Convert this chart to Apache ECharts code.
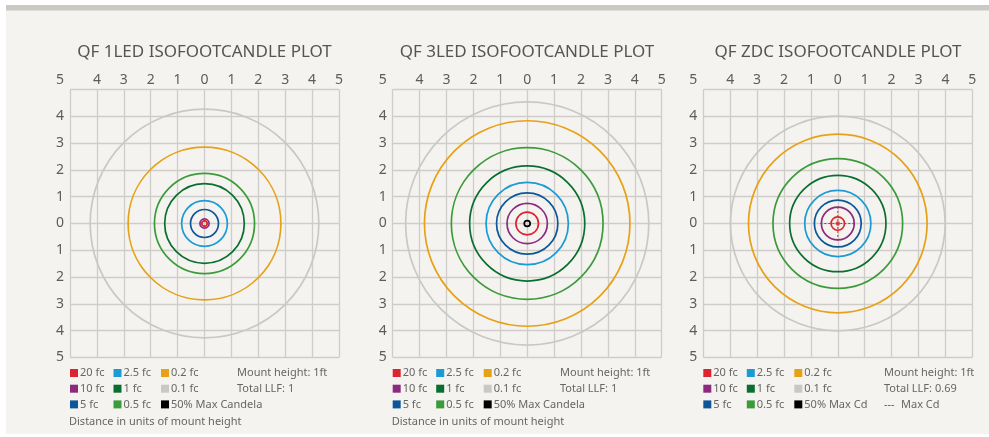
<!DOCTYPE html>
<html lang="en">
<head>
<meta charset="UTF-8">
<title>Isofootcandle plots</title>
<script src="https://cdn.jsdelivr.net/npm/echarts@6/dist/echarts.min.js"></script>
<style>
    html, body {
        margin: 0;
        padding: 0;
        width: 100%;
        height: 100%;
        background: #ffffff;
    }
    #chart {
        width: 989px;
        height: 437px;
    }
</style>
</head>
<body>
<div id="chart"></div>
<script>
    // footcandle levels, shared by the three plots
    var levels = ['20 fc', '10 fc', '5 fc', '2.5 fc', '1 fc', '0.5 fc', '0.2 fc', '0.1 fc'];
    var levelColors = ['#dc2430', '#8c2a7d', '#0d5699', '#1b9ad6', '#0a6e30', '#3b9b3a', '#e6a117', '#c8c8c8'];

    // ring radius per level, in units of mount height
    var radii1LED = [0.10, 0.17, 0.52, 0.85, 1.48, 1.86, 2.84, 4.25];
    var radii3LED = [0.42, 0.75, 1.14, 1.53, 2.14, 2.82, 3.82, 4.52];
    var radiiZDC  = [0.25, 0.61, 0.87, 1.23, 1.79, 2.41, 3.32, 3.99];

    // 50% max candela ring (only visible on the 3LED plot)
    var halfCandela3LED = 0.11;

    // ZDC max candela crosshair
    var maxCdH = [[-0.65, 0], [0.65, 0]];
    var maxCdV = [[0, -0.65], [0, 0.65]];
    var maxCdPoint = [[0, 0]];

    var titles = ['QF 1LED ISOFOOTCANDLE PLOT', 'QF 3LED ISOFOOTCANDLE PLOT', 'QF ZDC ISOFOOTCANDLE PLOT'];
    var llf = ['1', '1', '0.69'];
    var halfNames = ['50% Max Candela', '50% Max Candela', '50% Max Cd'];

    var font = '"Noto Sans", sans-serif';
    var textGray = '#5c5c5c';
    var gridLefts = [70, 392.7, 703.3];
    var centers = [204.5, 527, 838];
    var noteX = [237, 560, 884];

    var chart = echarts.init(document.getElementById('chart'));

    function ring(gi, name, color, r) {
        return {
            type: 'custom',
            name: name,
            xAxisIndex: gi,
            yAxisIndex: gi,
            silent: true,
            animation: false,
            itemStyle: { color: color },
            data: r == null ? [] : [[0, 0, r]],
            renderItem: function (params, api) {
                var c = api.coord([api.value(0), api.value(1)]);
                var s = api.size([api.value(2), api.value(2)]);
                return {
                    type: 'circle',
                    shape: { cx: c[0], cy: c[1], r: s[0] },
                    style: { fill: 'transparent', stroke: color, lineWidth: 1.7 }
                };
            }
        };
    }

    var grids = [], xAxes = [], yAxes = [], series = [], legends = [], graphics = [];
    var allRadii = [radii1LED, radii3LED, radiiZDC];

    for (var g = 0; g < 3; g++) {
        grids.push({ left: gridLefts[g], top: 89.5, width: 269, height: 268 });

        xAxes.push({
            gridIndex: g, type: 'value', min: -5, max: 5, interval: 1, position: 'top',
            axisLine: { show: false }, axisTick: { show: false },
            splitLine: { lineStyle: { color: '#cfcdca', width: 1.3 } },
            axisLabel: {
                margin: 2, fontSize: 14, color: textGray, fontFamily: font,
                formatter: function (v) { return v === -5 ? '{s|5}' : String(Math.abs(v)); },
                rich: { s: { padding: [0, 20, 0, 0], fontSize: 14, color: textGray, fontFamily: font } }
            }
        });
        yAxes.push({
            gridIndex: g, type: 'value', min: -5, max: 5, interval: 1,
            axisLine: { show: false }, axisTick: { show: false },
            splitLine: { lineStyle: { color: '#cfcdca', width: 1.3 } },
            axisLabel: {
                margin: 6, fontSize: 14, color: textGray, fontFamily: font, showMaxLabel: false,
                formatter: function (v) { return String(Math.abs(v)); }
            }
        });

        // biggest rings first so the small ones sit on top
        for (var i = levels.length - 1; i >= 0; i--) {
            series.push(ring(g, levels[i], levelColors[i], allRadii[g][i]));
        }
        series.push(ring(g, halfNames[g], '#000000', g === 1 ? halfCandela3LED : null));

        // legend columns
        var cols = [[levels[0], levels[1], levels[2]], [levels[3], levels[4], levels[5]], [levels[6], levels[7], halfNames[g]]];
        var colX = [0, 43.5, 91];
        for (var c = 0; c < 3; c++) {
            legends.push({
                left: gridLefts[g] + colX[c], top: 367, orient: 'vertical', padding: 0,
                itemWidth: 8, itemHeight: 8, itemGap: 3.7, icon: 'rect', selectedMode: false,
                data: cols[c],
                textStyle: { fontSize: 11, color: '#666', lineHeight: 12, fontFamily: font, padding: [0, 0, 0, -3] }
            });
        }

        graphics.push({
            type: 'text', x: centers[g], y: 52,
            style: { text: titles[g], fontSize: 17, fill: '#555', fontFamily: font, align: 'center', verticalAlign: 'middle' }
        });
        graphics.push({
            type: 'text', x: noteX[g], y: 373,
            style: { text: 'Mount height: 1ft', fontSize: 11, fill: '#666', fontFamily: font, verticalAlign: 'middle' }
        });
        graphics.push({
            type: 'text', x: noteX[g], y: 389,
            style: { text: 'Total LLF: ' + llf[g], fontSize: 11, fill: '#666', fontFamily: font, verticalAlign: 'middle' }
        });
        if (g < 2) {
            graphics.push({
                type: 'text', x: gridLefts[g] - 1, y: 421.5,
                style: { text: 'Distance in units of mount height', fontSize: 11, fill: '#666', fontFamily: font, verticalAlign: 'middle' }
            });
        }
    }

    // ZDC max candela marker
    series.push({
        type: 'line', name: 'Max Cd', xAxisIndex: 2, yAxisIndex: 2, data: maxCdH, symbol: 'none', silent: true,
        animation: false, lineStyle: { color: '#dc2430', width: 1, type: [2, 2] }
    });
    series.push({
        type: 'line', name: 'Max Cd', xAxisIndex: 2, yAxisIndex: 2, data: maxCdV, symbol: 'none', silent: true,
        animation: false, lineStyle: { color: '#dc2430', width: 1, type: [2, 2] }
    });
    series.push({
        type: 'scatter', name: 'Max Cd', xAxisIndex: 2, yAxisIndex: 2, data: maxCdPoint, symbolSize: 4.5,
        silent: true, animation: false, itemStyle: { color: '#dc2430' }
    });

    graphics.push({
        type: 'text', x: 884, y: 405,
        style: { text: '---', fontSize: 11, fill: '#dc2430', fontFamily: font, verticalAlign: 'middle' }
    });
    graphics.push({
        type: 'text', x: 901, y: 405,
        style: { text: 'Max Cd', fontSize: 11, fill: '#666', fontFamily: font, verticalAlign: 'middle' }
    });

    // panel: white page margins and the grey strip on top
    graphics.push({ type: 'rect', shape: { x: 0, y: 0, width: 6, height: 437 }, style: { fill: '#ffffff' } });
    graphics.push({ type: 'rect', shape: { x: 0, y: 0, width: 989, height: 5 }, style: { fill: '#ffffff' } });
    graphics.push({ type: 'rect', shape: { x: 6, y: 5, width: 983, height: 5.5 }, style: { fill: '#ccc9c5' } });
    graphics.push({ type: 'rect', shape: { x: 0, y: 434, width: 989, height: 3 }, style: { fill: '#ffffff' } });

    chart.setOption({
        backgroundColor: '#f5f3ef',
        animation: false,
        grid: grids,
        xAxis: xAxes,
        yAxis: yAxes,
        legend: legends,
        graphic: graphics,
        series: series
    });
</script>
</body>
</html>
